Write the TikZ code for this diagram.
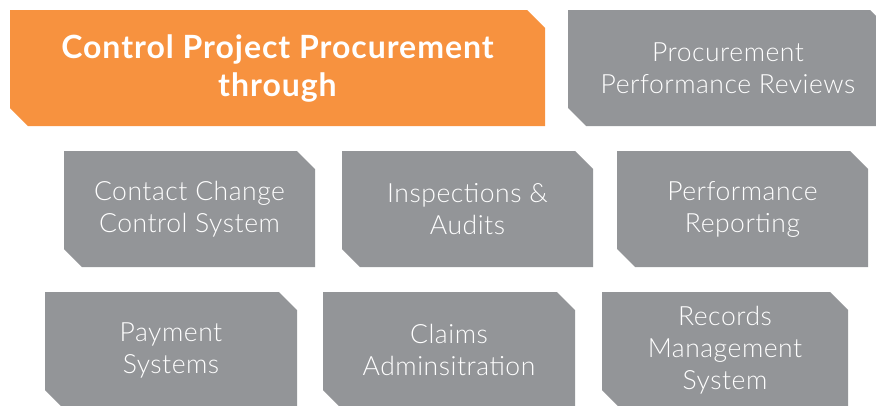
\documentclass[tikz,border=0pt]{standalone}
\usepackage{fontspec}
\setmainfont{Lato}
\newfontfamily\lightfont{Lato Light}[LetterSpace=2]
\newfontfamily\titlefont{Lato Bold}[LetterSpace=3]
\definecolor{boxorange}{HTML}{F7923F}
\definecolor{boxgray}{HTML}{939598}
\tikzset{
  boxtext/.style={text=white, align=center, font=\lightfont\fontsize{26.5}{32}\selectfont, inner sep=0pt},
  titletext/.style={text=white, align=center, font=\titlefont\fontsize{32}{38}\selectfont, inner sep=0pt}
}
% #1 name, #2 x1, #3 y1, #4 x2, #5 y2, #6 colour, #7 text style, #8 text
\newcommand\cutbox[8]{%
  \fill[#6] (#2,#3) -- ({#4-18},#3) -- (#4,{#3+18}) -- (#4,#5) -- ({#2+18},#5) -- (#2,{#5-18}) -- cycle;
  \node[#7] (#1) at ({(#2+#4)/2},{(#3+#5)/2}) {#8};
}
\begin{document}
\begin{tikzpicture}[x=1pt,y=-1pt]
\useasboundingbox (0,0) rectangle (876,405);
\clip (0,0) rectangle (876,405);
\cutbox{title}{10}{10}{545}{126}{boxorange}{titletext}{Control Project Procurement\\through}
\cutbox{ppr}{568}{10}{888}{126}{boxgray}{boxtext}{Procurement\\Performance Reviews}
\cutbox{ccc}{64}{151}{315}{267}{boxgray}{boxtext}{Contact Change\\Control System}
\cutbox{insp}{342}{151}{593}{267}{boxgray}{boxtext}{Inspections \&\\Audits}
\cutbox{perf}{617}{151}{868}{267}{boxgray}{boxtext}{Performance\\Reporting}
\cutbox{pay}{45}{292}{297}{408}{boxgray}{boxtext}{Payment\\Systems}
\cutbox{claims}{323}{292}{575}{408}{boxgray}{boxtext}{Claims\\Adminsitration}
\cutbox{rec}{602}{292}{848}{408}{boxgray}{boxtext}{Records\\Management\\System}
\end{tikzpicture}
\end{document}
